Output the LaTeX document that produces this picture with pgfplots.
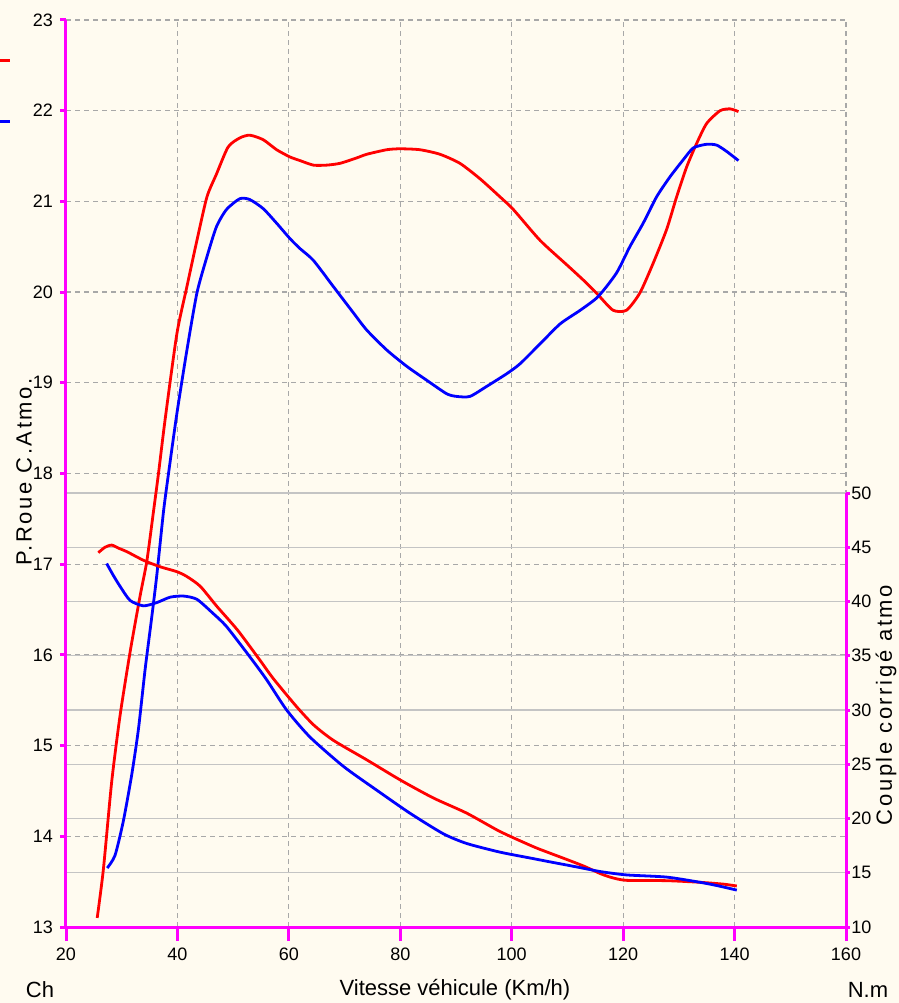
\documentclass[border=0pt]{standalone}
\usepackage{fontspec}
\setmainfont{Liberation Sans}
\usepackage{pgfplots}
\pgfplotsset{compat=1.18}
\definecolor{bg}{RGB}{255,251,240}
\definecolor{mag}{RGB}{255,0,255}
\definecolor{gdash}{RGB}{168,168,168}
\definecolor{gsolid}{RGB}{196,196,196}
\pgfplotsset{
  base/.style={width=390pt, scale only axis, xmin=20, xmax=160,
    at={(0,0)}, anchor=south west,
    /pgf/number format/assume math mode=true,
    ticklabel style={font=\fontsize{9}{10}\selectfont, text=black}},
  curve/.style={line width=1.4pt, smooth, tension=0.4},
}
\begin{document}
\begin{tikzpicture}
\path[fill=bg, use as bounding box] (-33pt,-38pt) rectangle (416.5pt,463.5pt);
% left dashed grid
\begin{axis}[base, height=453.5pt, ymin=13, ymax=23,
  xtick={40,60,...,160}, ytick={14,...,23}, grid=major,
  major grid style={gdash, line width=0.6pt, dash pattern=on 2.5pt off 2pt},
  axis line style={draw=none}, tick style={draw=none},
  xticklabels={}, yticklabels={}]
\end{axis}
% right solid grid
\begin{axis}[base, height=217pt, ymin=10, ymax=50,
  xtick=\empty, ytick={15,20,...,50}, ymajorgrids,
  major grid style={gsolid, line width=0.6pt},
  axis line style={draw=none}, tick style={draw=none}, yticklabels={}]
\end{axis}
% left axis: power
\begin{axis}[base, height=453.5pt, ymin=13, ymax=23,
  axis x line=none, axis y line*=left, ytick={13,...,23},
  tick align=outside, major tick length=3pt,
  y axis line style={mag, line width=1.5pt},
  ytick style={mag, line width=1.5pt}]
\addplot[red, curve] coordinates {
(25.6,13.10) (26.7,13.63) (28.2,14.60) (29.7,15.33) (31.5,16.03) (33.3,16.65)
(34.5,17.03) (35.7,17.58) (36.6,18.00) (37.8,18.60) (39.9,19.54) (41.7,20.06)
(43.5,20.57) (45.3,21.05) (47.0,21.30) (49.1,21.60) (51.2,21.70) (53.0,21.73)
(55.4,21.68) (57.8,21.57) (60.2,21.49) (62.0,21.45) (64.4,21.40) (66.8,21.40)
(69.2,21.42) (72.2,21.48) (74.0,21.52) (77.6,21.57) (80.0,21.58) (83.5,21.57)
(87.1,21.52) (90.7,21.42) (94.3,21.25) (97.9,21.05) (100.3,20.91) (105.1,20.57)
(109.9,20.30) (112.9,20.13) (115.5,19.97) (118.2,19.80) (120.6,19.80) (123.0,19.99)
(125.4,20.32) (127.8,20.69) (129.6,21.05) (131.4,21.38) (133.2,21.64) (135.0,21.86)
(137.4,22.00) (139.2,22.02) (140.7,21.99)};
\addplot[blue, curve] coordinates {
(27.4,13.65) (28.8,13.79) (30.3,14.17) (31.8,14.68) (33.0,15.18) (34.2,15.84)
(35.4,16.42) (36.3,16.88) (37.5,17.58) (38.4,18.00) (39.9,18.66) (41.7,19.36)
(43.5,19.99) (45.3,20.39) (47.0,20.72) (48.8,20.91) (51.2,21.03) (53.0,21.02)
(55.4,20.92) (57.8,20.76) (60.2,20.59) (62.0,20.48) (64.4,20.35) (68.0,20.06)
(71.6,19.77) (74.0,19.58) (77.6,19.36) (81.2,19.18) (84.7,19.03) (88.3,18.88)
(90.1,18.85) (92.5,18.85) (95.5,18.96) (99.1,19.10) (101.5,19.21) (105.1,19.43)
(108.7,19.65) (112.3,19.80) (115.5,19.95) (118.8,20.21) (121.2,20.50) (123.6,20.76)
(126.0,21.05) (128.4,21.27) (130.8,21.46) (132.6,21.59) (135.0,21.63) (136.8,21.62)
(138.6,21.55) (140.7,21.45)};
\end{axis}
% right axis: torque
\begin{axis}[base, height=217pt, ymin=10, ymax=50,
  axis x line=none, axis y line*=right, ytick={10,15,...,50},
  tick align=outside, major tick length=2pt,
  y axis line style={mag, line width=1.5pt},
  ytick style={mag, line width=1.5pt},
  yticklabel style={inner sep=0.5pt}]
\addplot[red, curve] coordinates {
(25.8,44.5) (27.0,45.0) (28.2,45.2) (29.5,44.9) (30.9,44.6) (33.9,43.8)
(36.9,43.2) (39.9,42.75) (41.7,42.3) (44.1,41.4) (47.0,39.6) (49.4,38.2)
(51.2,37.1) (54.8,34.6) (57.2,32.9) (61.4,30.3) (64.5,28.6) (68.0,27.2)
(74.0,25.4) (80.0,23.55) (85.9,21.9) (91.9,20.5) (97.9,18.8) (103.9,17.4)
(106.9,16.8) (110.0,16.2) (113.0,15.6) (116.0,14.9) (118.0,14.55) (120.6,14.3)
(127.8,14.27) (133.8,14.12) (138.0,13.95) (140.4,13.78)};
\addplot[blue, curve] coordinates {
(27.3,43.5) (28.5,42.4) (29.7,41.4) (31.5,40.1) (33.9,39.6) (36.3,39.9)
(38.7,40.4) (41.1,40.5) (43.5,40.2) (46.4,38.9) (48.8,37.7) (53.0,34.9)
(56.0,32.8) (59.6,30.0) (63.8,27.5) (69.8,24.8) (75.8,22.6) (81.7,20.5)
(87.7,18.6) (91.9,17.7) (97.9,16.9) (103.9,16.3) (106.9,16.0) (110.0,15.7)
(113.0,15.4) (116.0,15.1) (120.6,14.8) (127.8,14.6) (133.8,14.12) (137.0,13.8)
(140.4,13.4)};
\end{axis}
% x axis
\begin{axis}[base, height=453.5pt, ymin=13, ymax=23,
  axis y line=none, axis x line*=bottom, xtick={20,40,...,160},
  tick align=outside, major tick length=7pt,
  x axis line style={mag, line width=1.5pt},
  xtick style={mag, line width=1.5pt}]
\end{axis}
\node[font=\fontsize{11}{13}\selectfont] at (194.5pt,-31.5pt) {Vitesse véhicule (Km/h)};
\node[font=\fontsize{11}{13}\selectfont] at (-13pt,-31.5pt) {Ch};
\node[font=\fontsize{11}{13}\selectfont] at (401pt,-31.5pt) {N.m};
\node[rotate=90, font=\fontsize{11}{13}\selectfont\addfontfeature{LetterSpace=12}] at (-21pt,227.5pt) {P.Roue C.Atmo.};
\node[rotate=90, font=\fontsize{11}{13}\selectfont\addfontfeature{LetterSpace=12}] at (410pt,111pt) {Couple corrigé atmo};
\draw[red, line width=1.5pt] (-33pt,433pt) -- (-28pt,433pt);
\draw[blue, line width=1.5pt] (-33pt,402.5pt) -- (-28pt,402.5pt);
\end{tikzpicture}
\end{document}
